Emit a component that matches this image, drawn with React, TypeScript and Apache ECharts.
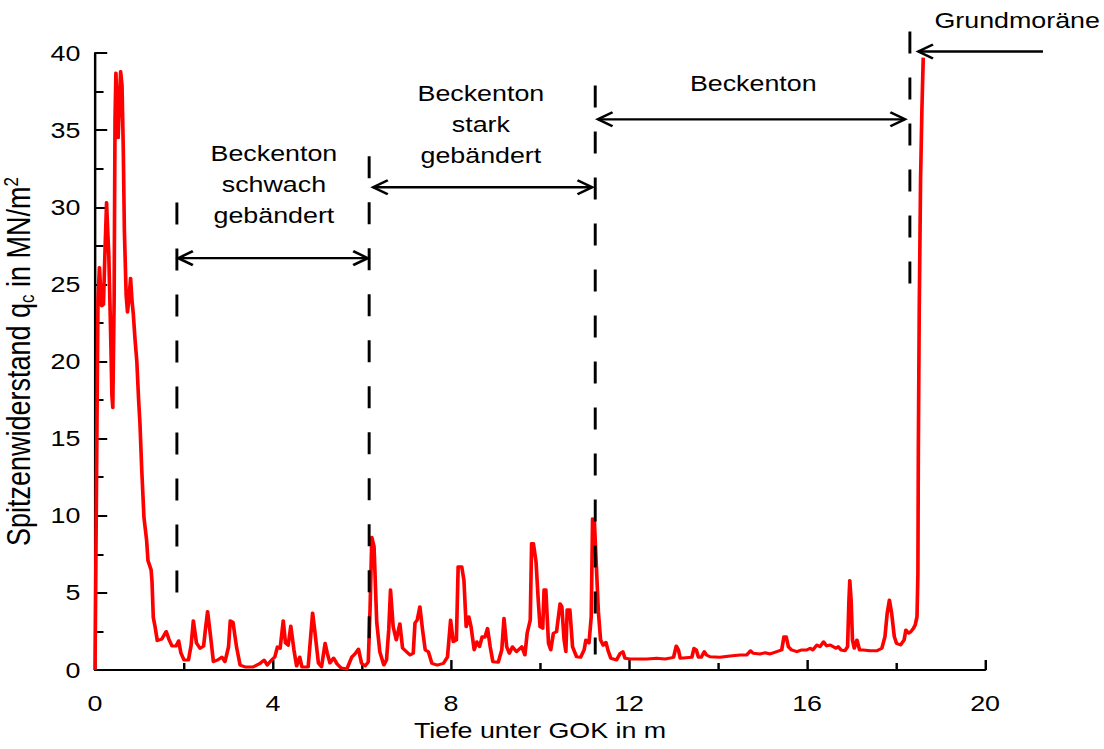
import React, { useEffect, useRef } from 'react';
import * as echarts from 'echarts';

// The figure is drawn in a narrower box and stretched horizontally, so that
// glyphs and vertical strokes get the same wide look as the printed diagram.
const STRETCH = 1.22;
const PAGE_W = 1104;
const PAGE_H = 749;
const CHART_W = PAGE_W / STRETCH;
const FONT = 'Liberation Sans, Arial, Helvetica, sans-serif';

// Cone penetration test: depth below ground level (m) and tip resistance qc (MN/m²)
const depthM = [
  0, 0.02, 0.045, 0.067, 0.1, 0.12, 0.15, 0.19, 0.225, 0.26, 0.29, 0.31, 0.35, 0.38, 0.4, 0.43,
  0.45, 0.47, 0.5, 0.52, 0.55, 0.576, 0.607, 0.636, 0.66, 0.7, 0.73, 0.76, 0.8, 0.83, 0.86, 0.9,
  0.94, 0.98, 1.01, 1.05, 1.1, 1.16, 1.19, 1.26, 1.28, 1.31, 1.35, 1.4, 1.5, 1.6, 1.66, 1.73,
  1.82, 1.88, 1.93, 2.0, 2.1, 2.16, 2.21, 2.28, 2.36, 2.44, 2.48, 2.53, 2.6, 2.66, 2.76, 2.85,
  2.92, 3.0, 3.04, 3.1, 3.18, 3.26, 3.37, 3.55, 3.71, 3.8, 3.87, 3.97, 4.04, 4.1, 4.16, 4.23,
  4.28, 4.34, 4.4, 4.47, 4.53, 4.6, 4.65, 4.79, 4.84, 4.89, 4.94, 5.02, 5.09, 5.17, 5.22, 5.28,
  5.36, 5.44, 5.53, 5.66, 5.77, 5.84, 5.92, 5.99, 6.07, 6.14, 6.18, 6.22, 6.27, 6.33, 6.4, 6.49,
  6.55, 6.6, 6.64, 6.7, 6.77, 6.85, 6.91, 7.0, 7.08, 7.15, 7.19, 7.24, 7.3, 7.36, 7.42, 7.49,
  7.57, 7.69, 7.83, 7.92, 7.99, 8.05, 8.12, 8.16, 8.24, 8.29, 8.34, 8.4, 8.45, 8.52, 8.58, 8.64,
  8.7, 8.76, 8.82, 8.88, 8.94, 9.06, 9.14, 9.19, 9.25, 9.31, 9.38, 9.47, 9.59, 9.66, 9.71, 9.78,
  9.81, 9.85, 9.91, 9.96, 10.0, 10.06, 10.09, 10.13, 10.19, 10.24, 10.3, 10.37, 10.45, 10.49,
  10.54, 10.58, 10.61, 10.67, 10.73, 10.82, 10.91, 10.99, 11.03, 11.1, 11.15, 11.18, 11.22,
  11.26, 11.31, 11.36, 11.42, 11.48, 11.53, 11.59, 11.72, 11.8, 11.86, 11.91, 12.02, 12.4,
  12.62, 12.81, 13.0, 13.06, 13.11, 13.15, 13.41, 13.46, 13.51, 13.56, 13.62, 13.69, 13.74,
  13.82, 14.04, 14.27, 14.49, 14.64, 14.73, 14.79, 14.94, 15.06, 15.17, 15.32, 15.43, 15.48,
  15.53, 15.58, 15.65, 15.77, 15.88, 15.99, 16.07, 16.13, 16.22, 16.29, 16.37, 16.44, 16.52,
  16.59, 16.65, 16.7, 16.76, 16.85, 16.91, 16.94, 16.96, 16.99, 17.02, 17.06, 17.12, 17.18,
  17.26, 17.42, 17.57, 17.68, 17.75, 17.8, 17.85, 17.9, 17.96, 18.01, 18.1, 18.18, 18.22,
  18.28, 18.33, 18.39, 18.43, 18.47, 18.49, 18.5, 18.52, 18.55, 18.58, 18.61,
];

const qc = [
  0, 7.1, 16.2, 24.0, 26.1, 25.0, 23.6, 23.7, 27.2, 30.3, 28.2, 26.9, 22.0, 17.8, 17.0, 24.0,
  35.7, 38.7, 36.2, 34.5, 36.8, 38.8, 37.9, 33.7, 28.5, 24.3, 23.2, 24.0, 25.4, 24.0, 23.1, 21.4,
  20.0, 17.5, 16.0, 13.0, 9.9, 8.4, 7.1, 6.5, 5.8, 3.4, 2.8, 1.9, 2.0, 2.5, 2.0, 1.55,
  1.55, 1.9, 1.1, 0.65, 0.65, 1.6, 3.2, 1.75, 1.4, 1.55, 2.6, 3.8, 2.1, 0.54, 0.65, 0.84,
  0.54, 1.5, 3.2, 3.1, 1.5, 0.32, 0.2, 0.2, 0.43, 0.65, 0.32, 0.65, 0.84, 1.5, 1.4, 3.2,
  1.75, 1.6, 2.85, 1.3, 0.26, 0.84, 0.2, 0.2, 1.95, 3.7, 2.5, 0.45, 0.2, 1.73, 1.08, 0.45,
  0.78, 0.39, 0.13, 0.06, 0.84, 1.04, 1.36, 0.43, 0.26, 0.52, 3.9, 8.6, 8.0, 3.1, 1.17, 0.32,
  0.65, 2.6, 5.2, 2.8, 1.95, 3.0, 1.43, 1.19, 0.97, 1.08, 3.05, 3.24, 4.1, 2.6, 1.3, 1.19,
  0.43, 0.32, 0.43, 0.84, 3.24, 1.83, 1.95, 6.7, 6.7, 5.8, 2.8, 3.45, 2.8, 1.3, 1.83, 1.51,
  2.16, 2.12, 2.7, 1.51, 0.54, 0.5, 1.3, 3.35, 1.51, 1.08, 1.51, 1.19, 1.51, 0.97, 2.38, 3.24,
  8.2, 8.2, 7.0, 4.5, 2.8, 2.7, 5.2, 5.2, 1.73, 1.3, 2.38, 2.48, 4.3, 4.1,
  1.95, 1.19, 3.9, 3.9, 1.51, 0.86, 0.82, 1.3, 1.95, 1.75, 3.45, 9.8, 9.7,
  7.1, 3.8, 1.95, 1.6, 1.8, 1.25, 0.76, 0.65, 1.08, 1.19, 0.76, 0.71, 0.71,
  0.76, 0.71, 0.82, 1.56, 1.3, 0.76, 0.82, 1.41, 1.3, 0.82, 0.82, 1.19, 0.97,
  0.86, 0.82, 0.91, 0.97, 0.97, 1.25, 1.08, 1.04, 1.12, 1.04, 1.19, 1.3, 2.16,
  2.16, 1.51, 1.3, 1.19, 1.3, 1.3, 1.41, 1.3, 1.62, 1.51, 1.83, 1.56, 1.62,
  1.51, 1.41, 1.51, 1.3, 1.25, 1.51, 4.5, 5.8, 4.5, 1.95, 1.41, 1.95, 1.3,
  1.3, 1.25, 1.25, 1.41, 2.16, 3.68, 4.54, 3.68, 2.16, 1.73, 1.62, 1.95, 2.6,
  2.38, 2.48, 2.7, 2.92, 3.46, 6.2, 14.3, 23.3, 31.8, 36.3, 39.7,
];

// Layer boundaries (dashed verticals): depth, upper end, lower end (in qc units)
const boundaryDepth = [1.84, 6.16, 11.24, 18.31];
const boundaryTop = [30.3, 33.3, 37.9, 41.4];
const boundaryBottom = [4.7, 1.0, 1.0, 24.6];

// Extent arrows: start depth, end depth, height, heads (2 = both ends, 1 = end only)
const arrowStart = [1.87, 6.25, 11.3, 21.3];
const arrowEnd = [6.13, 11.17, 18.2, 18.5];
const arrowLevel = [26.7, 31.3, 35.7, 40.1];
const arrowHeads = [2, 2, 2, 1];

// Layer names with their anchor (centre) positions
const layerNames = [
  'Beckenton\nschwach\ngebändert',
  'Beckenton\nstark\ngebändert',
  'Beckenton',
  'Grundmoräne',
];
const layerNameDepth = [4.02, 8.67, 14.79, 20.72];
const layerNameLevel = [31.5, 35.4, 38.0, 42.1];

const xTicks = { min: 0, max: 20, step: 4 };
const yTicks = { min: 0, max: 40, step: 5 };

const HEAD_LEN = 12;
const HEAD_HALF = 7;

export default function App() {
  const ref = useRef<HTMLDivElement>(null);

  useEffect(() => {
    if (!ref.current) return;
    const chart = echarts.init(ref.current, null, { renderer: 'svg' });

    const curve = depthM.map((d, i) => [d, qc[i]]);
    const boundaries = boundaryDepth.map((d, i) => [d, boundaryTop[i], boundaryBottom[i]]);
    const arrows = arrowStart.map((s, i) => [s, arrowEnd[i], arrowLevel[i], arrowHeads[i]]);
    const names = layerNames.map((_, i) => [layerNameDepth[i], layerNameLevel[i], i]);

    const axisLine = { show: true, lineStyle: { color: '#000', width: 2 } };
    const labelStyle = { color: '#000', fontSize: 22, fontFamily: FONT };

    chart.setOption({
      animation: false,
      backgroundColor: '#fff',
      grid: {
        left: 95 / STRETCH,
        right: CHART_W - 985 / STRETCH,
        top: 53,
        bottom: PAGE_H - 670,
        containLabel: false,
        outerBoundsMode: 'none',
      },
      xAxis: {
        type: 'value',
        min: xTicks.min,
        max: xTicks.max,
        interval: xTicks.step,
        name: 'Tiefe unter GOK in m',
        nameLocation: 'middle',
        nameGap: 48,
        nameTextStyle: { color: '#000', fontSize: 22, fontFamily: FONT },
        axisLine,
        axisTick: { show: true, inside: true, length: 10, lineStyle: { color: '#000', width: 2 } },
        minorTick: { show: true, splitNumber: 2, length: 7, lineStyle: { color: '#000', width: 2 } },
        splitLine: { show: false },
        minorSplitLine: { show: false },
        axisLabel: { ...labelStyle, margin: 22 },
      },
      yAxis: {
        type: 'value',
        min: yTicks.min,
        max: yTicks.max,
        interval: yTicks.step,
        name: '{m|Spitzenwiderstand q}{s|c}{m| in MN/m}{p|2}',
        nameLocation: 'middle',
        nameGap: 44,
        nameTextStyle: {
          color: '#000',
          fontSize: 27,
          fontFamily: FONT,
          rich: {
            m: { fontSize: 27, fontFamily: FONT, color: '#000', lineHeight: 30 },
            s: { fontSize: 17, fontFamily: FONT, color: '#000', lineHeight: 14, verticalAlign: 'bottom' },
            p: { fontSize: 17, fontFamily: FONT, color: '#000', lineHeight: 14, verticalAlign: 'top' },
          },
        },
        axisLine,
        axisTick: { show: true, inside: true, length: 10, lineStyle: { color: '#000', width: 2 } },
        minorTick: { show: true, splitNumber: 2, length: 7, lineStyle: { color: '#000', width: 2 } },
        splitLine: { show: false },
        minorSplitLine: { show: false },
        axisLabel: { ...labelStyle, margin: 12 },
      },
      series: [
        {
          name: 'qc',
          type: 'line',
          data: curve,
          showSymbol: false,
          symbol: 'none',
          lineStyle: { color: '#ff0000', width: 3, join: 'round' },
          z: 2,
        },
        {
          name: 'Schichtgrenzen',
          type: 'custom',
          coordinateSystem: 'cartesian2d',
          data: boundaries,
          clip: false,
          silent: true,
          z: 3,
          renderItem: (_p: any, api: any) => {
            const a = api.coord([api.value(0), api.value(1)]);
            const b = api.coord([api.value(0), api.value(2)]);
            return {
              type: 'line',
              shape: { x1: a[0], y1: a[1], x2: b[0], y2: b[1] },
              style: { stroke: '#000', lineWidth: 2.4, lineDash: [22, 24] },
            };
          },
        },
        {
          name: 'Schichtmächtigkeit',
          type: 'custom',
          coordinateSystem: 'cartesian2d',
          data: arrows,
          clip: false,
          silent: true,
          z: 4,
          renderItem: (_p: any, api: any) => {
            const a = api.coord([api.value(0), api.value(2)]);
            const b = api.coord([api.value(1), api.value(2)]);
            const dir = b[0] > a[0] ? 1 : -1;
            const stroke = { stroke: '#000', lineWidth: 2.4, fill: null };
            const children: any[] = [
              { type: 'line', shape: { x1: a[0], y1: a[1], x2: b[0], y2: b[1] }, style: stroke },
              {
                type: 'polyline',
                shape: {
                  points: [
                    [b[0] - dir * HEAD_LEN, b[1] - HEAD_HALF],
                    [b[0], b[1]],
                    [b[0] - dir * HEAD_LEN, b[1] + HEAD_HALF],
                  ],
                },
                style: stroke,
              },
            ];
            if (api.value(3) === 2) {
              children.push({
                type: 'polyline',
                shape: {
                  points: [
                    [a[0] + dir * HEAD_LEN, a[1] - HEAD_HALF],
                    [a[0], a[1]],
                    [a[0] + dir * HEAD_LEN, a[1] + HEAD_HALF],
                  ],
                },
                style: stroke,
              });
            }
            return { type: 'group', children };
          },
        },
        {
          name: 'Schichtnamen',
          type: 'custom',
          coordinateSystem: 'cartesian2d',
          data: names,
          clip: false,
          silent: true,
          z: 5,
          renderItem: (_p: any, api: any) => {
            const c = api.coord([api.value(0), api.value(1)]);
            return {
              type: 'text',
              x: c[0],
              y: c[1],
              style: {
                text: layerNames[api.value(2)],
                fontSize: 22,
                fontFamily: FONT,
                fill: '#000',
                align: 'center',
                verticalAlign: 'middle',
                lineHeight: 31,
              },
            };
          },
        },
      ],
    });

    return () => chart.dispose();
  }, []);

  return (
    <div
      style={{
        position: 'absolute',
        left: 0,
        top: 0,
        width: PAGE_W,
        height: PAGE_H,
        overflow: 'hidden',
        background: '#fff',
      }}
    >
      <div
        ref={ref}
        style={{
          width: CHART_W,
          height: PAGE_H,
          transform: `scaleX(${STRETCH})`,
          transformOrigin: '0 0',
        }}
      />
    </div>
  );
}
